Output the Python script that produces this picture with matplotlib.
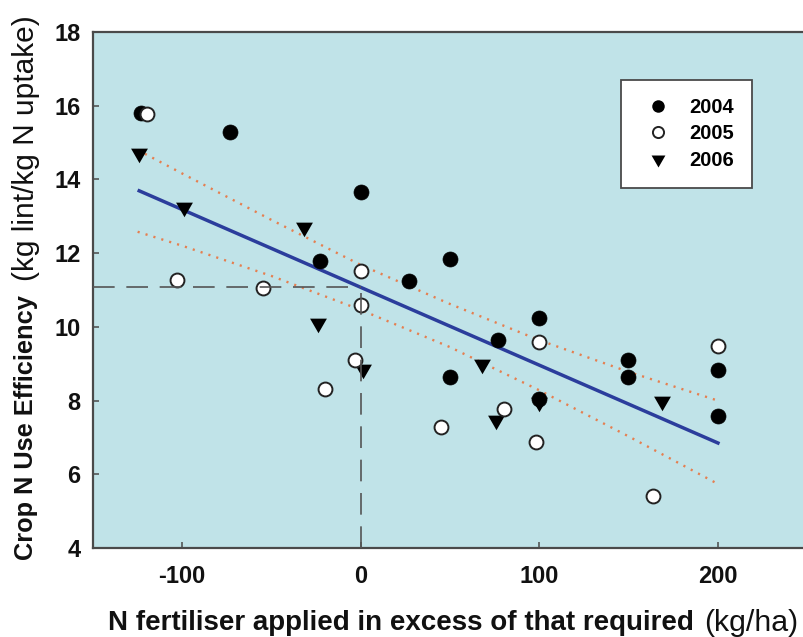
import matplotlib
matplotlib.use("Agg")
import matplotlib.pyplot as plt
from matplotlib.path import Path
from matplotlib.lines import Line2D

plt.rcParams['font.family'] = ['Liberation Sans', 'DejaVu Sans']
plt.rcParams['axes.unicode_minus'] = False

# ---------------- data ----------------
x_2004 = [-123, -73, 0, -23, 27, 50, 50, 77, 100, 100, 150, 150, 200, 200]
y_2004 = [15.80, 15.28, 13.66, 11.80, 11.24, 11.84, 8.65, 9.65, 10.25, 8.04, 9.10, 8.65, 8.83, 7.58]

x_2005 = [-120, -103, -55, -3, 0, 0, -20, 45, 80, 98, 100, 164, 200]
y_2005 = [15.78, 11.28, 11.06, 9.10, 11.52, 10.59, 8.31, 7.28, 7.77, 6.88, 9.58, 5.42, 9.47]

x_2006 = [-124, -99, -32, -24, 1, 68, 76, 100, 169]
y_2006 = [14.72, 13.26, 12.72, 10.10, 8.85, 9.00, 7.46, 7.96, 7.98]

fit_x = [-125, 201]
fit_y = [13.71, 6.83]

band_x = [-125, -100, -50, 0, 50, 100, 150, 200]
band_upper = [14.80, 14.16, 12.90, 11.68, 10.62, 9.64, 8.78, 8.00]
band_lower = [12.58, 12.20, 11.38, 10.46, 9.45, 8.28, 7.03, 5.74]

ref_x = 0
ref_y = 11.07

x_ticks = [-100, 0, 100, 200]
y_ticks = [4, 6, 8, 10, 12, 14, 16, 18]
legend_labels = ['2004', '2005', '2006']

xlabel_bold = 'N fertiliser applied in excess of that required'
xlabel_reg = '(kg/ha)'
ylabel_bold = 'Crop N Use Efficiency'
ylabel_reg = '(kg lint/kg N uptake)'

# ---------------- figure ----------------
W, H = 804, 637
fig = plt.figure(figsize=(W / 100, H / 100), dpi=100)
ax = fig.add_axes([93 / W, 1 - 548 / H, 714 / W, 516 / H])
ax.set_facecolor('#c0e3e8')
ax.set_xlim(-150, 250)
ax.set_ylim(4, 18)

tri = Path([(-1, 0.577), (1, 0.577), (0, -1.155), (-1, 0.577)],
           [Path.MOVETO, Path.LINETO, Path.LINETO, Path.CLOSEPOLY])

# confidence band (dotted) and fitted line
band_style = dict(color='#e57f50', lw=1.7, ls=(0, (0.9, 2.6)), zorder=2)
ax.plot(band_x, band_upper, **band_style)
ax.plot(band_x, band_lower, **band_style)
ax.plot(fit_x, fit_y, color='#2b3d9c', lw=2.5, solid_capstyle='butt', zorder=2)

# points
ax.plot(x_2006, y_2006, ls='none', marker=tri, ms=14, color='black', mew=0, zorder=3)
ax.plot(x_2004, y_2004, ls='none', marker='o', ms=10.8, color='black', mew=0.5, zorder=4)
ax.plot(x_2005, y_2005, ls='none', marker='o', ms=10, mfc='white', mec='#222222', mew=1.4, zorder=5)

# reference dashed lines
dash_style = dict(color='#555555', lw=1.2, ls=(0, (13, 7)), zorder=6)
ax.plot([-150, ref_x], [ref_y, ref_y], **dash_style)
ax.plot([ref_x, ref_x], [4, ref_y], **dash_style)

# axes styling
for s in ax.spines.values():
    s.set_color('#4a4a4a')
    s.set_linewidth(1.6)
ax.set_xticks(x_ticks)
ax.set_yticks(y_ticks)
ax.tick_params(direction='in', length=4.5, width=1.1, color='#4a4a4a', labelsize=17)
ax.tick_params(axis='y', pad=9)
ax.tick_params(axis='x', pad=12)
for lab in ax.get_xticklabels() + ax.get_yticklabels():
    lab.set_fontweight('bold')
    lab.set_color('#111111')

# legend
handles = [
    Line2D([], [], ls='none', marker='o', ms=9, color='black', mew=0),
    Line2D([], [], ls='none', marker='o', ms=8, mfc='white', mec='#222222', mew=1.4),
    Line2D([], [], ls='none', marker=tri, ms=11.5, color='black', mew=0),
]
leg = ax.legend(handles, legend_labels, loc='upper left', bbox_to_anchor=(0.739, 0.907),
                borderaxespad=0, frameon=True, fancybox=False, framealpha=1,
                prop={'weight': 'bold', 'size': 14.5}, borderpad=0.9,
                handlelength=1.9, handletextpad=0.6, labelspacing=0.36)
leg.get_frame().set_edgecolor('#4a4a4a')
leg.get_frame().set_linewidth(1.3)
leg.set_zorder(10)

# axis labels made of bold + regular parts, sized to the reference extents
fig.canvas.draw()
r = fig.canvas.get_renderer()


def fitted_text(x_px, y_px, s, length_px, rotation=0, **kw):
    t = fig.text(x_px / W, 1 - y_px / H, s, fontsize=10, rotation=rotation,
                 color='#111111', **kw)
    bb = t.get_window_extent(r)
    cur = bb.width if rotation == 0 else bb.height
    t.set_fontsize(10 * length_px / cur)
    return t


fitted_text(108, 623, xlabel_bold, 587, fontweight='bold', ha='left', va='center')
fitted_text(704, 623, xlabel_reg, 95, ha='left', va='center')

fitted_text(26, 560, ylabel_bold, 265, rotation=90, fontweight='bold', ha='center', va='bottom')
fitted_text(26, 281, ylabel_reg, 267, rotation=90, ha='center', va='bottom')

fig.savefig('out.png', dpi=100)
